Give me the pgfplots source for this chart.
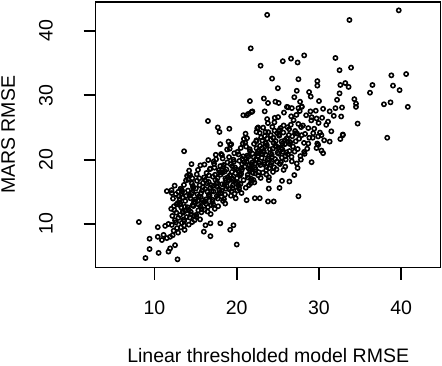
\documentclass[border=0pt]{standalone}
\usepackage{pgfplots}
\pgfplotsset{compat=1.18}
\usepackage{fontspec}
\setmainfont{Liberation Sans}

% MARS RMSE against linear thresholded model RMSE
\pgfplotstableread{
x y
23.7 42.5
39.7 43.2
33.7 41.7
21.7 37.3
22.9 34.6
25.6 35.3
26.6 35.7
27.4 35.1
28.2 36.2
32.0 35.8
32.5 33.9
33.9 34.3
24.3 32.6
27.5 32.5
25.0 31.1
29.8 32.2
29.8 31.5
27.3 30.7
27.0 29.7
28.8 30.5
29.0 29.8
32.6 31.6
33.2 31.9
33.6 31.3
32.5 30.3
32.2 29.3
34.3 29.4
34.5 28.7
34.5 28.2
36.5 31.6
36.2 30.4
38.8 33.1
40.6 33.3
39.0 31.5
39.8 30.8
37.9 28.6
38.7 28.9
40.8 28.2
30.0 29.1
31.3 27.5
32.0 28.0
32.8 28.1
32.7 26.7
34.7 25.6
31.1 25.9
32.9 23.9
29.1 26.6
29.7 26.4
24.7 29.0
25.1 28.8
26.1 28.2
26.7 28.0
27.5 28.0
27.9 28.2
27.7 29.0
21.6 29.1
23.3 29.5
23.8 28.8
21.9 27.5
21.2 26.9
20.8 26.9
21.4 27.1
21.8 27.4
23.4 27.5
23.7 26.3
16.5 26.0
17.7 25.0
17.9 24.3
19.1 24.8
22.6 25.0
22.4 24.3
23.5 24.3
22.4 23.0
32.6 23.2
32.9 23.8
38.3 23.4
30.5 21.0
30.3 21.4
29.9 22.3
29.7 21.8
28.7 22.5
28.2 21.2
29.1 19.6
27.8 20.0
27.3 19.4
27.4 18.7
27.0 17.6
26.4 16.6
25.5 16.7
25.2 15.6
27.5 14.3
23.8 13.5
24.5 13.5
23.9 15.5
23.9 16.8
25.9 18.9
25.7 18.4
30.3 23.8
29.9 23.6
29.3 24.1
27.9 23.8
27.1 24.1
13.6 21.3
14.5 19.3
8.1 10.3
8.9 4.7
9.4 6.1
10.5 5.5
9.4 7.7
10.4 8.0
11.1 8.3
10.9 7.5
11.5 7.8
11.9 8.0
10.4 9.5
11.3 9.7
11.7 10.0
11.9 6.2
11.7 5.7
12.5 6.7
12.8 4.5
16.0 8.8
16.8 8.1
16.2 9.8
16.8 10.1
18.0 10.1
19.2 9.1
19.6 9.8
20.0 6.8
11.5 15.1
12.1 14.8
12.9 15.0
13.3 15.3
14.6 17.1
14.2 17.6
17.2 19.7
16.8 18.6
18.0 19.0
18.0 22.4
19.0 22.8
19.2 22.3
18.2 20.7
21.2 13.7
22.2 14.0
22.8 14.0
12.03 12.35
12.10 9.85
12.17 11.25
12.25 13.95
12.33 8.95
12.41 12.15
12.49 10.55
12.58 14.65
12.66 11.75
12.74 9.35
12.83 13.25
12.91 10.95
12.07 15.25
12.21 8.25
12.37 12.75
12.45 15.95
12.62 10.25
12.70 13.05
12.87 8.65
12.96 14.25
13.03 12.97
13.10 11.37
13.17 15.47
13.25 12.57
13.33 10.17
13.41 14.07
13.49 11.77
13.58 16.07
13.66 9.07
13.74 13.57
13.83 16.77
13.91 11.07
13.07 13.87
13.21 9.47
13.37 15.07
13.45 11.97
13.62 10.47
13.70 12.67
13.87 14.37
13.96 17.47
13.14 13.17
13.54 10.67
13.79 12.07
13.29 14.77
13.60 9.77
14.03 12.59
14.10 16.89
14.17 9.89
14.25 14.39
14.33 17.59
14.41 11.89
14.49 14.69
14.58 10.29
14.66 15.89
14.74 12.79
14.83 11.29
14.91 13.49
14.07 15.19
14.21 18.29
14.37 13.99
14.45 11.49
14.62 12.89
14.70 15.59
14.87 10.59
14.96 13.79
14.14 12.19
14.54 16.29
14.79 13.39
14.29 10.99
14.60 14.89
15.03 15.51
15.10 11.11
15.17 16.71
15.25 13.61
15.33 12.11
15.41 14.31
15.49 16.01
15.58 19.11
15.66 14.81
15.74 12.31
15.83 13.71
15.91 16.41
15.07 11.41
15.21 14.61
15.37 13.01
15.45 17.11
15.62 14.21
15.70 11.81
15.87 15.71
15.96 13.41
15.14 17.71
15.54 10.71
15.79 15.21
15.29 18.41
15.60 12.71
16.03 17.23
16.10 12.23
16.17 15.43
16.25 13.83
16.33 17.93
16.41 15.03
16.49 12.63
16.58 16.53
16.66 14.23
16.74 18.53
16.83 11.53
16.91 16.03
16.07 19.23
16.21 13.53
16.37 16.33
16.45 11.93
16.62 17.53
16.70 14.43
16.87 12.93
16.96 15.13
16.14 16.83
16.54 19.93
16.79 15.63
16.29 13.13
16.60 14.53
17.03 13.45
17.10 17.35
17.17 15.05
17.25 19.35
17.33 12.35
17.41 16.85
17.49 20.05
17.58 14.35
17.66 17.15
17.74 12.75
17.83 18.35
17.91 15.25
17.07 13.75
17.21 15.95
17.37 17.65
17.45 20.75
17.62 16.45
17.70 13.95
17.87 15.35
17.96 18.05
17.14 13.05
17.54 16.25
17.79 14.65
17.29 18.75
17.60 15.85
18.03 17.67
18.10 20.87
18.17 15.17
18.25 17.97
18.33 13.57
18.41 19.17
18.49 16.07
18.58 14.57
18.66 16.77
18.74 18.47
18.83 21.57
18.91 17.27
18.07 14.77
18.21 16.17
18.37 18.87
18.45 13.87
18.62 17.07
18.70 15.47
18.87 19.57
18.96 16.67
18.14 14.27
18.54 18.17
18.79 15.87
18.29 20.17
18.60 13.17
19.03 16.89
19.10 15.39
19.17 17.59
19.25 19.29
19.33 22.39
19.41 18.09
19.49 15.59
19.58 16.99
19.66 19.69
19.74 14.69
19.83 17.89
19.91 16.29
19.07 20.39
19.21 17.49
19.37 15.09
19.45 18.99
19.62 16.69
19.70 20.99
19.87 13.99
19.96 18.49
19.14 21.69
19.54 15.99
19.79 18.79
19.29 14.39
19.60 19.99
20.03 17.11
20.10 21.21
20.17 18.31
20.25 15.91
20.33 19.81
20.41 17.51
20.49 21.81
20.58 14.81
20.66 19.31
20.74 22.51
20.83 16.81
20.91 19.61
20.07 15.21
20.21 20.81
20.37 17.71
20.45 16.21
20.62 18.41
20.70 20.11
20.87 23.21
20.96 18.91
20.14 16.41
20.54 17.81
20.79 20.51
20.29 15.51
20.60 18.71
21.03 22.63
21.10 15.63
21.17 20.13
21.25 23.33
21.33 17.63
21.41 20.43
21.49 16.03
21.58 21.63
21.66 18.53
21.74 17.03
21.83 19.23
21.91 20.93
21.07 24.03
21.21 19.73
21.37 17.23
21.45 18.63
21.62 21.33
21.70 16.33
21.87 19.53
21.96 17.93
21.14 22.03
21.54 19.13
21.79 16.73
21.29 20.63
21.60 18.33
22.03 16.85
22.10 22.45
22.17 19.35
22.25 17.85
22.33 20.05
22.41 21.75
22.49 24.85
22.58 20.55
22.66 18.05
22.74 19.45
22.83 22.15
22.91 17.15
22.07 20.35
22.21 18.75
22.37 22.85
22.45 19.95
22.62 17.55
22.70 21.45
22.87 19.15
22.96 23.45
22.14 16.45
22.54 20.95
22.79 24.15
22.29 18.45
22.60 21.25
23.03 20.27
23.10 22.97
23.17 17.97
23.25 21.17
23.33 19.57
23.41 23.67
23.49 20.77
23.58 18.37
23.66 22.27
23.74 19.97
23.83 24.27
23.91 17.27
23.07 21.77
23.21 24.97
23.37 19.27
23.45 22.07
23.62 17.67
23.70 23.27
23.87 20.17
23.96 18.67
23.14 20.87
23.54 22.57
23.79 25.67
23.29 21.37
23.60 18.87
24.03 21.59
24.10 19.19
24.17 23.09
24.25 20.79
24.33 25.09
24.41 18.09
24.49 22.59
24.58 25.79
24.66 20.09
24.74 22.89
24.83 18.49
24.91 24.09
24.07 20.99
24.21 19.49
24.37 21.69
24.45 23.39
24.62 26.49
24.70 22.19
24.87 19.69
24.96 21.09
24.14 23.79
24.54 18.79
24.79 21.99
24.29 20.39
24.60 24.49
25.03 26.61
25.10 20.91
25.17 23.71
25.25 19.31
25.33 24.91
25.41 21.81
25.49 20.31
25.58 22.51
25.66 24.21
25.74 27.31
25.83 23.01
25.91 20.51
25.07 21.91
25.21 24.61
25.37 19.61
25.45 22.81
25.62 21.21
25.70 25.31
25.87 22.41
25.96 20.01
25.14 23.91
25.54 21.61
26.03 21.13
26.10 23.33
26.17 25.03
26.25 28.13
26.33 23.83
26.41 21.33
26.49 22.73
26.58 25.43
26.66 20.43
26.74 23.63
26.83 22.03
26.91 26.13
26.07 23.23
26.21 20.83
26.37 24.73
26.45 22.43
26.62 26.73
26.70 19.73
27.03 21.25
27.10 24.45
27.17 22.85
27.25 26.95
27.33 24.05
27.41 21.65
27.49 25.55
27.58 23.25
27.66 27.55
27.74 20.55
27.83 25.05
27.91 28.25
28.05 25.3
28.18 22.6
28.31 24.0
28.44 26.9
28.57 21.7
28.70 24.9
28.83 23.4
28.96 27.5
28.25 20.9
29.06 26.1
29.24 23.4
29.42 24.8
29.61 27.6
29.79 22.5
29.95 25.7
30.12 24.2
30.38 26.5
30.63 23.0
30.88 25.4
30.50 27.9
31.5 24.4
31.8 26.8
31.3 22.8
}\rmse

\begin{document}
\begin{tikzpicture}
% fixed page size: axis box of 345pt x 265.7pt with room for the labels
\useasboundingbox (-95.7pt,-98.3pt) rectangle (346.3pt,267.7pt);
\begin{axis}[
    at={(0pt,0pt)}, anchor=south west,
    scale only axis,
    width=345pt, height=265.7pt,
    xmin=2.85, xmax=44.8,
    ymin=3.2, ymax=44.5,
    xtick={10,20,30,40},
    ytick={10,20,30,40},
    tick align=outside,
    major tick length=12pt,
    xtick pos=left, ytick pos=left,
    axis line style={line width=1.3pt},
    every tick/.style={draw=black, line width=1.8pt},
    font=\fontsize{19.5}{23}\selectfont,
    /pgf/number format/assume math mode=true,
    xticklabel style={anchor=base, yshift=-35pt},
    yticklabel style={anchor=base, rotate=90, yshift=31pt},
    xlabel={Linear thresholded model RMSE},
    ylabel={MARS RMSE},
    xlabel style={at={(axis description cs:0.5,-0.355)}, anchor=base},
    ylabel style={at={(axis description cs:-0.234,0.5)}, anchor=base, rotate=0},
]
\addplot[only marks, mark=o, mark size=2.1pt, line width=1.6pt, black] table {\rmse};
\end{axis}
% outward tick marks at 10, 20, 30, 40 on both axes, as filled bars
\foreach \p in {58.80,141.04,223.28,305.52}
    \fill[black] (\p pt,0pt) ++(-0.9pt,0pt) rectangle ++(1.8pt,-12pt);
\foreach \p in {43.75,108.08,172.42,236.75}
    \fill[black] (0pt,\p pt) ++(0pt,-0.9pt) rectangle ++(-12pt,1.8pt);
\end{tikzpicture}
\end{document}
